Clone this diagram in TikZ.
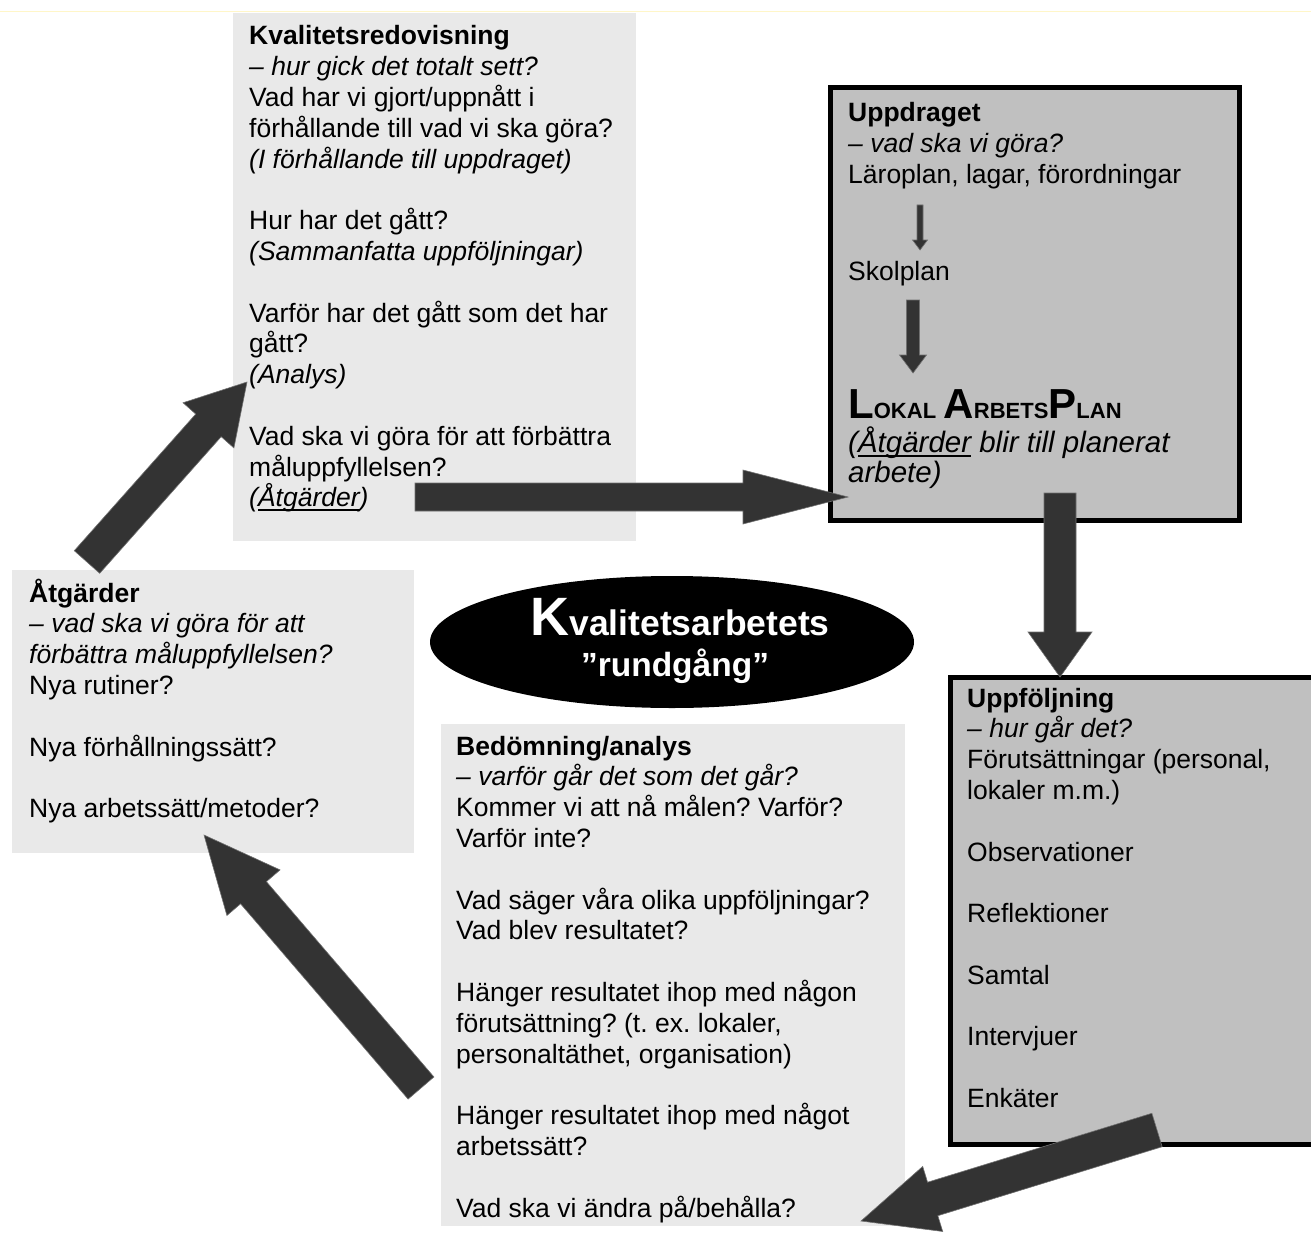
\documentclass[tikz,border=0pt]{standalone}
\usepackage{fontspec}
\setmainfont{Liberation Sans}
\usetikzlibrary{calc,shapes.geometric}
\frenchspacing
\definecolor{lightbox}{HTML}{E9E9E9}
\definecolor{midbox}{HTML}{C0C0C0}
\definecolor{arrowdark}{HTML}{333333}
\definecolor{faintline}{HTML}{FFF6C8}
\newcommand\bodyfont{\fontsize{26.5}{30.8}\selectfont\frenchspacing}
\newcommand\tline[1]{\hbox{#1}}
\newcommand\lapbig[1]{{\fontsize{42}{42}\selectfont #1}}
\newcommand\lapsmall[1]{{\fontsize{22}{22}\selectfont #1}}
\newcommand\ulin[2]{\setbox0\hbox{#2}\rlap{\rule[-#1]{\wd0}{2pt}}\box0\relax}
% block arrow: tail, tip, half shaft width, half head width, head length
\newcommand\blockarrow[5]{%
  \coordinate (bah) at ($(#2)!#5!(#1)$);
  \fill[blockarrowstyle] ($(#1)!#3!90:(#2)$) -- ($(bah)!#3!-90:(#1)$) -- ($(bah)!#4!-90:(#1)$)
    -- (#2) -- ($(bah)!#4!90:(#1)$) -- ($(bah)!#3!90:(#1)$) -- ($(#1)!#3!-90:(#2)$) -- cycle;}
\tikzset{
  lightpanel/.style={fill=lightbox, inner sep=0, anchor=north west},
  darkpanel/.style={fill=midbox, draw=black, line width=5pt, inner sep=0, anchor=north west},
  txt/.style={anchor=base west, inner sep=0, font=\bodyfont},
  titletxt/.style={anchor=base, inner sep=0, text=white},
  blockarrowstyle/.style={fill=arrowdark, draw=arrowdark!70, line width=0.6pt},
}
\begin{document}
\begin{tikzpicture}[x=1pt,y=-1pt]
\useasboundingbox (0,0) rectangle (1311,1252);
\fill[white] (0,0) rectangle (1311,1252);
\draw[faintline, line width=0.8pt] (0,11) -- (1311,11);

% panels
\node[lightpanel, minimum width=403, minimum height=528] (kval) at (233,13) {};
\node[darkpanel, minimum width=409, minimum height=432] (uppdrag) at (827.5,85.5) {};
\node[darkpanel, minimum width=385, minimum height=467] (uppf) at (947.5,674.5) {};
\node[lightpanel, minimum width=464, minimum height=502] (bedom) at (441,724) {};
\node[lightpanel, minimum width=402, minimum height=283] (atg) at (12,570) {};
\node[ellipse, fill=black, minimum width=484, minimum height=132, inner sep=0] (title) at (672,642) {};

% texts
\node[txt] (kvaltext) at (249,45) {\vtop{%
  \tline{\bfseries Kvalitetsredovisning}
  \tline{\itshape – hur gick det totalt sett?}
  \tline{Vad har vi gjort/uppnått i}
  \tline{förhållande till vad vi ska göra?}
  \tline{\itshape (I förhållande till uppdraget)}
  \tline{}
  \tline{Hur har det gått?}
  \tline{\itshape (Sammanfatta uppföljningar)}
  \tline{}
  \tline{Varför har det gått som det har}
  \tline{gått?}
  \tline{\itshape (Analys)}
  \tline{}
  \tline{Vad ska vi göra för att förbättra}
  \tline{måluppfyllelsen?}
  \tline{\itshape (\ulin{4pt}{Åtgärder})}}};

\node[txt] (uppdragtext) at (848,122) {\vtop{%
  \tline{\bfseries Uppdraget}
  \tline{\itshape – vad ska vi göra?}
  \tline{Läroplan, lagar, förordningar}}};
\node[txt] (skolplan) at (848,280) {Skolplan};
\node[txt] (lap) at (848,418) {\bfseries\lapbig{L}\lapsmall{OKAL} \lapbig{A}\lapsmall{RBETS}\lapbig{P}\lapsmall{LAN}};
\node[txt, font=\fontsize{29.5}{30.5}\selectfont] (laptext) at (848,452) {\vtop{%
  \tline{\itshape (\ulin{5pt}{Åtgärder} blir till planerat}
  \tline{\itshape arbete)}}};

\node[txt] (uppftext) at (967,707) {\vtop{%
  \tline{\bfseries Uppföljning}
  \tline{\itshape – hur går det?}
  \tline{Förutsättningar (personal,}
  \tline{lokaler m.m.)}
  \tline{}
  \tline{Observationer}
  \tline{}
  \tline{Reflektioner}
  \tline{}
  \tline{Samtal}
  \tline{}
  \tline{Intervjuer}
  \tline{}
  \tline{Enkäter}}};

\node[txt] (bedomtext) at (456,755) {\vtop{%
  \tline{\bfseries Bedömning/analys}
  \tline{\itshape – varför går det som det går?}
  \tline{Kommer vi att nå målen? Varför?}
  \tline{Varför inte?}
  \tline{}
  \tline{Vad säger våra olika uppföljningar?}
  \tline{Vad blev resultatet?}
  \tline{}
  \tline{Hänger resultatet ihop med någon}
  \tline{förutsättning? (t. ex. lokaler,}
  \tline{personaltäthet, organisation)}
  \tline{}
  \tline{Hänger resultatet ihop med något}
  \tline{arbetssätt?}
  \tline{}
  \tline{Vad ska vi ändra på/behålla?}}};

\node[txt] (atgtext) at (29,602) {\vtop{%
  \tline{\bfseries Åtgärder}
  \tline{\itshape – vad ska vi göra för att}
  \tline{\itshape förbättra måluppfyllelsen?}
  \tline{Nya rutiner?}
  \tline{}
  \tline{Nya förhållningssätt?}
  \tline{}
  \tline{Nya arbetssätt/metoder?}}};

\node[titletxt, font=\bfseries\fontsize{35.5}{40}\selectfont] (titleline1) at (680,635)
  {{\fontsize{54}{54}\selectfont K}valitetsarbetets};
\node[titletxt, font=\bfseries\fontsize{33.5}{40}\selectfont] (titleline2) at (675,676) {”rundgång”};

% arrows
\coordinate (a1s) at (415,497);  \coordinate (a1e) at (848,497);
\coordinate (a2s) at (1060,493); \coordinate (a2e) at (1060,677);
\coordinate (a3s) at (920,205);  \coordinate (a3e) at (920,250);
\coordinate (a4s) at (913,300);  \coordinate (a4e) at (913,373);
\coordinate (a5s) at (87,562);   \coordinate (a5e) at (247,382);
\coordinate (a6s) at (421,1088); \coordinate (a6e) at (204,835);
\coordinate (a7s) at (1157,1130);\coordinate (a7e) at (861,1221);
\blockarrow{a1s}{a1e}{14pt}{27pt}{105pt}
\blockarrow{a2s}{a2e}{16pt}{32pt}{45pt}
\blockarrow{a3s}{a3e}{3pt}{7.5pt}{10pt}
\blockarrow{a4s}{a4e}{6.5pt}{13.5pt}{18pt}
\blockarrow{a5s}{a5e}{17pt}{34pt}{58pt}
\blockarrow{a6s}{a6e}{17pt}{35pt}{76pt}
\blockarrow{a7s}{a7e}{17.5pt}{34pt}{75pt}
\end{tikzpicture}
\end{document}
